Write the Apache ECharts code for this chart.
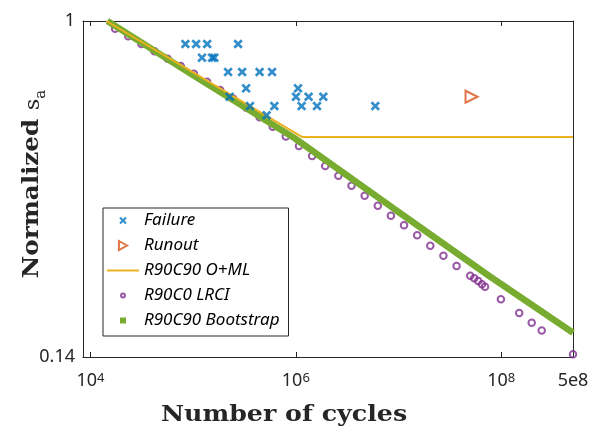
<!DOCTYPE html>
<html>
<head>
<meta charset="utf-8">
<script src="https://cdn.jsdelivr.net/npm/echarts@6/dist/echarts.min.js"></script>
<style>html,body{margin:0;padding:0;background:#fff}#c{width:602px;height:432px}</style>
</head>
<body>
<div id="c"></div>
<script>
// ---- data ----
const failureN = [8.41e4, 1.07e5, 1.37e5, 2.74e5, 1.22e5, 1.53e5, 1.61e5, 2.19e5, 3.0e5, 4.44e5, 5.87e5, 3.28e5, 1.051e6, 2.27e5, 1.004e6, 1.332e6, 1.852e6, 3.58e5, 6.18e5, 1.139e6, 1.608e6, 5.94e6, 5.2e5];
const failureS = [0.874, 0.874, 0.874, 0.874, 0.807, 0.807, 0.807, 0.742, 0.742, 0.742, 0.742, 0.6745, 0.6745, 0.642, 0.642, 0.642, 0.642, 0.608, 0.608, 0.608, 0.608, 0.608, 0.576];
const runoutN = [5.14e7];
const runoutS = [0.642];
const omlN = [1.43e4, 1.157e6, 5e8];
const omlS = [1.0, 0.507, 0.507];
const lrciN = [1.74e4, 2.336e4, 3.136e4, 4.207e4, 5.648e4, 7.582e4, 1.018e5, 1.366e5, 1.834e5, 2.462e5, 3.305e5, 4.437e5, 5.957e5, 7.993e5, 1.073e6, 1.441e6, 1.934e6, 2.597e6, 3.485e6, 4.679e6, 6.281e6, 8.43e6, 1.132e7, 1.519e7, 2.039e7, 2.737e7, 3.675e7, 4.994e7, 5.46e7, 5.974e7, 6.49e7, 6.956e7, 9.93e7, 1.497e8, 1.981e8, 2.479e8, 5e8];
const lrciS = [0.956, 0.9145, 0.874, 0.8375, 0.802, 0.7686, 0.7348, 0.7011, 0.6679, 0.6347, 0.6021, 0.5691, 0.5385, 0.5086, 0.4813, 0.4539, 0.428, 0.4045, 0.3815, 0.3598, 0.3393, 0.32, 0.3025, 0.2853, 0.2686, 0.2532, 0.2384, 0.2253, 0.2219, 0.2184, 0.2144, 0.2111, 0.1963, 0.1811, 0.1711, 0.1635, 0.1423];
const bootN = [1.464e4, 1.029e5, 9.67e5, 9.09e6, 7.64e7, 5e8];
const bootS = [1.0, 0.7249, 0.5043, 0.3329, 0.2249, 0.1614];
const seriesNames = ['Failure', 'Runout', 'R90C90 O+ML', 'R90C0 LRCI', 'R90C90 Bootstrap'];
const xTickValues = [1e4, 1e6, 1e8];
const xLabelValues = [1e4, 1e6, 1e8, 5e8];
const xLabelTexts = ['{b|10}{sup|4}', '{b|10}{sup|6}', '{b|10}{sup|8}', '{n|5e8}'];
const yTickValues = [0.14, 1];
const yLabelTexts = ['0.14', '1'];
const xTitle = 'Number of cycles';

const pairs = (a, b) => a.map((v, i) => [v, b[i]]);
const nearestLabel = (vals, texts, v) => {
  let best = 0;
  vals.forEach((x, i) => { if (Math.abs(Math.log(x) - Math.log(v)) < Math.abs(Math.log(vals[best]) - Math.log(v))) best = i; });
  return texts[best];
};

const ink = '#262626';
const crossPath = 'path://M0,2 L2,0 L5,3 L8,0 L10,2 L7,5 L10,8 L8,10 L5,7 L2,10 L0,8 L3,5 Z';
// legend icons (leading moveTo points only pad the icon box so the drawn mark is smaller)
const crossIcon = 'path://M-1,-1 M11,11 M0,2 L2,0 L5,3 L8,0 L10,2 L7,5 L10,8 L8,10 L5,7 L2,10 L0,8 L3,5 Z';
const triRightIcon = 'path://M0,0 L9,5 L0,10 Z';
const circleIcon = 'path://M0,0 M10,10 M2.8,5 A2.2,2.2 0 1 1 7.2,5 A2.2,2.2 0 1 1 2.8,5 Z';
const squareIcon = 'path://M0,0 M9,9 M1.5,1.5 L7.5,1.5 L7.5,7.5 L1.5,7.5 Z';
const lineIcon = 'path://M0,0 L32,0 L32,2 L0,2 Z';
const tickFont = '"Noto Sans", sans-serif';

const xBase = {
  type: 'log', logBase: 10, min: 8470, max: 5e8,
  splitLine: { show: false }, minorTick: { show: false },
  axisLine: { show: true, lineStyle: { color: ink, width: 1 } }
};
const yBase = {
  type: 'log', logBase: 10, min: 0.14, max: 1,
  splitLine: { show: false },
  axisLine: { show: true, lineStyle: { color: ink, width: 1 } }
};

const chart = echarts.init(document.getElementById('c'), null, { renderer: 'canvas' });
chart.setOption({
  animation: false,
  backgroundColor: '#fff',
  grid: { left: 83, right: 29, top: 21, bottom: 75, outerBoundsMode: 'none', containLabel: false },
  xAxis: [
    Object.assign({}, xBase, {
      position: 'bottom',
      axisTick: { show: true, inside: true, length: 5, lineStyle: { color: ink }, customValues: xTickValues },
      axisLabel: {
        show: true, margin: 15, color: ink, customValues: xLabelValues,
        formatter: v => nearestLabel(xLabelValues, xLabelTexts, v),
        rich: {
          b: { fontSize: 18, fontFamily: tickFont, color: ink, lineHeight: 18, padding: [9, 0, 0, 0], verticalAlign: 'bottom' },
          sup: { fontSize: 13, fontFamily: tickFont, color: ink, lineHeight: 13, verticalAlign: 'top' },
          n: { fontSize: 18, fontFamily: tickFont, color: ink, lineHeight: 18, verticalAlign: 'top' }
        }
      }
    }),
    Object.assign({}, xBase, {
      position: 'top',
      axisTick: { show: true, inside: true, length: 5, lineStyle: { color: ink }, customValues: xTickValues },
      axisLabel: { show: false }
    })
  ],
  yAxis: [
    Object.assign({}, yBase, {
      position: 'left',
      axisTick: { show: true, inside: true, length: 5, lineStyle: { color: ink }, customValues: yTickValues },
      axisLabel: {
        show: true, margin: 8, color: ink, fontSize: 18, fontFamily: tickFont, customValues: yTickValues,
        formatter: v => nearestLabel(yTickValues, yLabelTexts, v)
      }
    }),
    Object.assign({}, yBase, {
      position: 'right',
      axisTick: { show: true, inside: true, length: 5, lineStyle: { color: ink }, customValues: yTickValues },
      axisLabel: { show: false }
    })
  ],
  legend: {
    orient: 'vertical', left: 103, top: 208,
    padding: [0, 9, 3, 4],
    itemWidth: 32, itemHeight: 9, itemGap: 0, symbolKeepAspect: true,
    borderColor: ink, borderWidth: 1, backgroundColor: '#fff',
    textStyle: { fontFamily: tickFont, fontStyle: 'italic', fontSize: 17, color: '#000', lineHeight: 25 },
    data: [
      { name: seriesNames[0], icon: crossIcon },
      { name: seriesNames[1], icon: triRightIcon },
      { name: seriesNames[2], icon: lineIcon, itemStyle: { color: '#EDB120' } },
      { name: seriesNames[3], icon: circleIcon },
      { name: seriesNames[4], icon: squareIcon, itemStyle: { color: '#77AC30', borderColor: '#77AC30', borderWidth: 0 } }
    ]
  },
  graphic: [
    { type: 'text', x: 284, y: 415, scaleX: 1.1, style: { text: xTitle, font: 'bold 23px "DejaVu Serif"', fill: ink, align: 'center', verticalAlign: 'middle' } },
    { type: 'text', x: 30, y: 184, rotation: Math.PI / 2, scaleX: 1.07,
      style: {
        text: '{b|Normalized }{s|s}{sub|a}', align: 'center', verticalAlign: 'middle', fill: ink,
        rich: {
          b: { font: 'bold 23px "DejaVu Serif"', fill: ink, lineHeight: 28, verticalAlign: 'bottom' },
          s: { font: '21px "DejaVu Serif"', fill: ink, lineHeight: 28, verticalAlign: 'bottom' },
          sub: { font: '14px "DejaVu Serif"', fill: ink, lineHeight: 18, verticalAlign: 'bottom', padding: [0, 0, -4, 0] }
        }
      }
    }
  ],
  series: [
    {
      name: seriesNames[0], type: 'scatter', z: 5,
      symbol: crossPath, symbolSize: 9.5,
      itemStyle: { color: '#0072BD' },
      data: pairs(failureN, failureS)
    },
    {
      name: seriesNames[1], type: 'scatter', z: 5,
      symbol: 'triangle', symbolRotate: -90, symbolSize: 12,
      itemStyle: { color: 'rgba(255,255,255,0)', borderColor: '#D95319', borderWidth: 2 },
      data: pairs(runoutN, runoutS)
    },
    {
      name: seriesNames[2], type: 'line', z: 4,
      symbol: 'none', lineStyle: { color: '#EDB120', width: 2 },
      itemStyle: { color: '#EDB120' },
      data: pairs(omlN, omlS)
    },
    {
      name: seriesNames[3], type: 'scatter', z: 2,
      symbol: 'circle', symbolSize: 6.5,
      itemStyle: { color: 'rgba(255,255,255,0)', borderColor: '#7E2F8E', borderWidth: 2 },
      data: pairs(lrciN, lrciS)
    },
    {
      name: seriesNames[4], type: 'line', z: 3,
      symbol: 'none', lineStyle: { color: '#77AC30', width: 6.5 },
      itemStyle: { color: '#77AC30' },
      data: pairs(bootN, bootS)
    }
  ]
});
</script>
</body>
</html>
